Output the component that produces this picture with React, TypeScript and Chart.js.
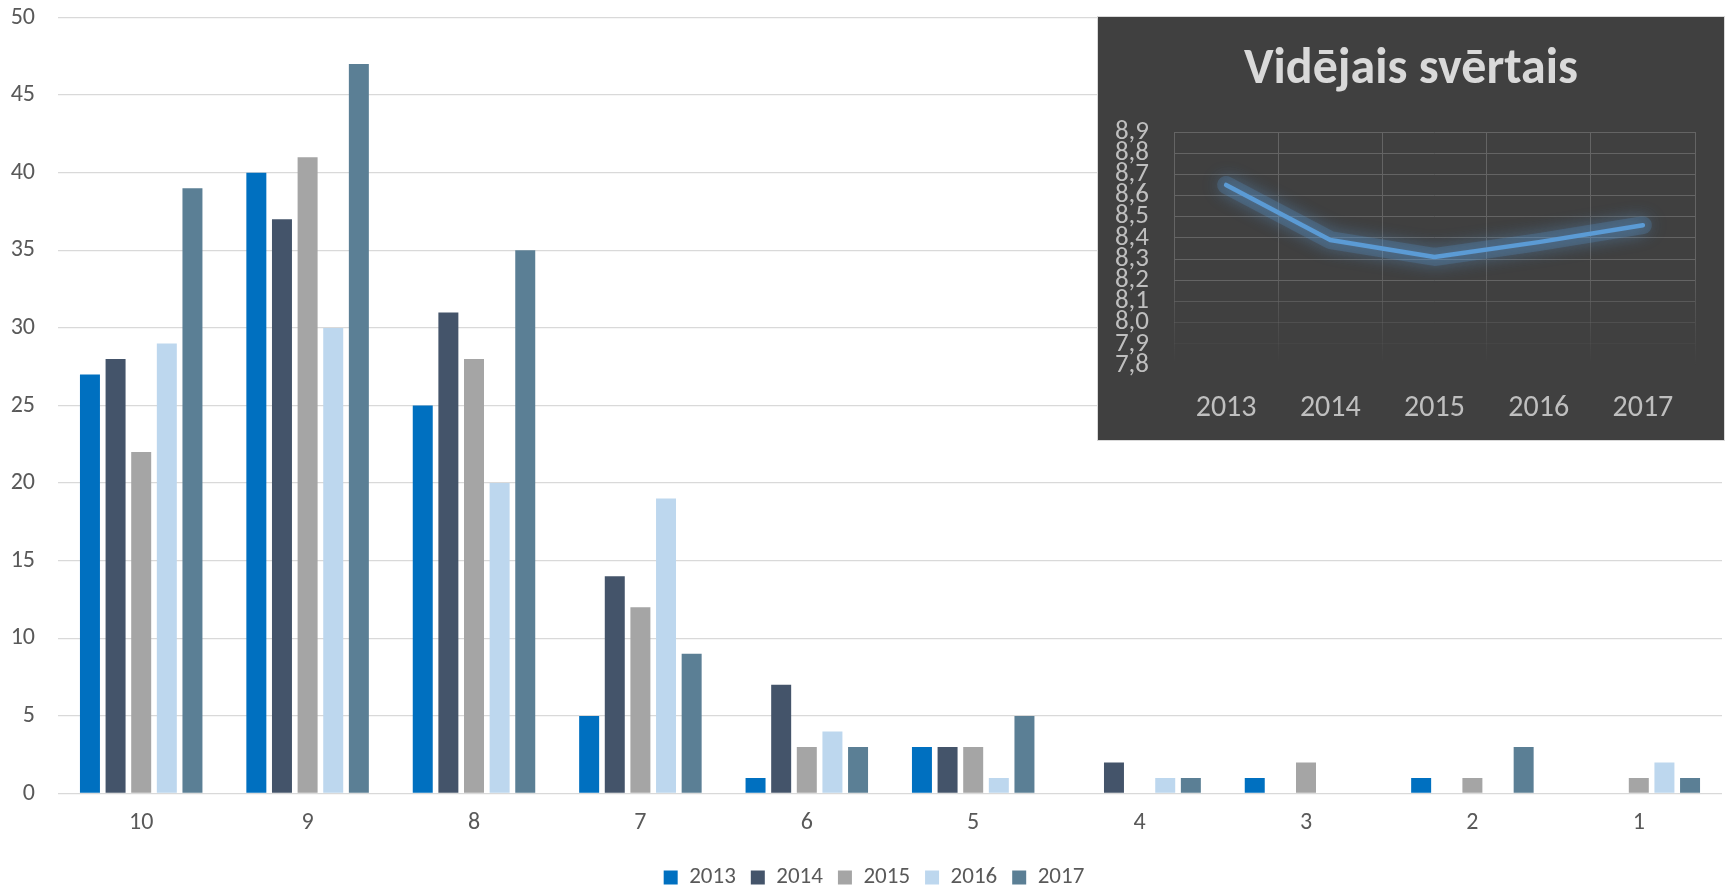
import React, { useEffect, useRef } from 'react';
import { Chart, registerables } from 'chart.js';
Chart.register(...registerables);

const FONT = 'Carlito, Calibri, Lato, sans-serif';

const categories = ['10', '9', '8', '7', '6', '5', '4', '3', '2', '1'];
const years = ['2013', '2014', '2015', '2016', '2017'];
const s2013 = [27, 40, 25, 5, 1, 3, 0, 1, 1, 0];
const s2014 = [28, 37, 31, 14, 7, 3, 2, 0, 0, 0];
const s2015 = [22, 41, 28, 12, 3, 3, 0, 2, 1, 1];
const s2016 = [29, 30, 20, 19, 4, 1, 1, 0, 0, 2];
const s2017 = [39, 47, 35, 9, 3, 5, 1, 0, 3, 1];
const seriesColors = ['#0070C0', '#44546A', '#A5A5A5', '#BDD7EE', '#5B7F95'];

const avgTitle = 'Vidējais svērtais';
const avgValues = [8.65, 8.39, 8.31, 8.38, 8.46];
const avgTicks = [7.8, 7.9, 8.0, 8.1, 8.2, 8.3, 8.4, 8.5, 8.6, 8.7, 8.8, 8.9];

const glowPlugin = {
  id: 'glow',
  beforeDatasetsDraw(chart: any) {
    const ctx = chart.ctx;
    ctx.save();
    ctx.shadowColor = 'rgba(91,155,213,0.9)';
    ctx.shadowBlur = 18;
  },
  afterDatasetsDraw(chart: any) {
    chart.ctx.restore();
  },
};

// legend in the reference is centred slightly right of the canvas centre
const legendShift = {
  id: 'legendShift',
  afterLayout(chart: any) {
    if (chart.legend) chart.legend.left = 26;
  },
};

export default function App() {
  const mainRef = useRef<HTMLCanvasElement>(null);
  const insetRef = useRef<HTMLCanvasElement>(null);

  useEffect(() => {
    document.body.style.margin = '0';
    const allSeries = [s2013, s2014, s2015, s2016, s2017];
    const main = new Chart(mainRef.current!, {
      type: 'bar',
      data: {
        labels: categories,
        datasets: years.map((y, i) => ({
          label: y,
          data: allSeries[i],
          backgroundColor: seriesColors[i],
          borderWidth: 0,
          categoryPercentage: 0.77,
          barPercentage: 0.78,
        })),
      },
      plugins: [legendShift],
      options: {
        responsive: false,
        animation: false,
        layout: { padding: { top: 17.5, right: 3, left: 0, bottom: 0 } },
        plugins: {
          legend: {
            position: 'bottom',
            labels: {
              boxWidth: 14,
              boxHeight: 14,
              padding: 15,
              color: '#595959',
              font: { family: FONT, size: 23 },
            },
          },
          tooltip: { enabled: false },
          title: { display: false },
        },
        scales: {
          x: {
            grid: { display: false, drawTicks: false },
            border: { display: false },
            ticks: { color: '#595959', font: { family: FONT, size: 24 }, padding: 15 },
            afterFit: (s: any) => { s.height = 57.5; },
          },
          y: {
            min: 0,
            max: 50,
            ticks: { stepSize: 5, color: '#595959', font: { family: FONT, size: 24 }, padding: 23 },
            grid: { color: '#D9D9D9', lineWidth: 1.3, drawTicks: false },
            border: { display: false },
            afterFit: (s: any) => {
              s.width = 58;
              s.paddingTop = 0;
              s.paddingBottom = 0;
            },
          },
        },
      },
    } as any);

    const inset = new Chart(insetRef.current!, {
      type: 'line',
      data: {
        labels: years,
        datasets: [
          {
            label: avgTitle,
            data: avgValues,
            borderColor: '#5B9BD5',
            borderWidth: 4.5,
            pointRadius: 0,
            tension: 0,
            fill: false,
            borderCapStyle: 'round',
            borderJoinStyle: 'round',
          },
          {
            label: 'glow',
            data: avgValues,
            borderColor: 'rgba(91,155,213,0.22)',
            borderWidth: 18,
            pointRadius: 0,
            tension: 0,
            fill: false,
            borderCapStyle: 'round',
            borderJoinStyle: 'round',
          },
        ],
      },
      plugins: [glowPlugin],
      options: {
        responsive: false,
        animation: false,
        layout: { padding: 0 },
        plugins: {
          legend: { display: false },
          tooltip: { enabled: false },
          title: {
            display: true,
            text: avgTitle,
            color: '#D9D9D9',
            font: { family: FONT, size: 50, weight: 'bold' },
            padding: { top: 23, bottom: 32 },
          },
        },
        scales: {
          x: {
            offset: true,
            grid: {
              offset: true,
              drawTicks: false,
              color: (c: any) => {
                const area = c.chart.chartArea;
                if (!area) return '#5F5F5F';
                const g = c.chart.ctx.createLinearGradient(0, area.top, 0, area.bottom);
                g.addColorStop(0, 'rgba(100,100,100,1)');
                g.addColorStop(0.55, 'rgba(100,100,100,1)');
                g.addColorStop(1, 'rgba(100,100,100,0)');
                return g;
              },
            },
            border: { display: false },
            ticks: { color: '#BFBFBF', font: { family: FONT, size: 30 }, padding: 25 },
            afterFit: (s: any) => { s.height = 75; },
          },
          y: {
            min: 7.8,
            max: 8.9,
            afterBuildTicks: (s: any) => { s.ticks = avgTicks.map((v) => ({ value: v })); },
            ticks: {
              autoSkip: false,
              color: '#BFBFBF',
              font: { family: FONT, size: 27, lineHeight: 1 },
              padding: 25,
              callback: (v: any) => Number(v).toFixed(1).replace('.', ','),
            },
            grid: {
              drawTicks: false,
              color: (c: any) => {
                const v = c.tick ? c.tick.value : 8.9;
                const a = Math.max(0, Math.min(1, (v - 7.85) / 0.35));
                return `rgba(100,100,100,${a})`;
              },
            },
            border: { display: false },
            afterFit: (s: any) => { s.width = 76; },
          },
          yRight: {
            position: 'right',
            display: true,
            grid: { display: false, drawTicks: false },
            ticks: { display: false },
            border: { display: false },
            afterFit: (s: any) => {
              s.width = 29;
              s.paddingTop = 0;
              s.paddingBottom = 0;
            },
          },
        },
      },
    } as any);

    return () => {
      main.destroy();
      inset.destroy();
    };
  }, []);

  return (
    <div style={{ position: 'relative', width: 1725, height: 888, overflow: 'hidden', background: '#fff' }}>
      <canvas ref={mainRef} width={1725} height={899} style={{ display: 'block', width: 1725, height: 899 }} />
      <div
        style={{
          position: 'absolute',
          left: 1097,
          top: 16,
          width: 628,
          height: 425,
          boxSizing: 'border-box',
          border: '1px solid #D9D9D9',
          background: '#404040',
        }}
      >
        <canvas ref={insetRef} width={626} height={423} style={{ display: 'block', width: 626, height: 423 }} />
      </div>
    </div>
  );
}
